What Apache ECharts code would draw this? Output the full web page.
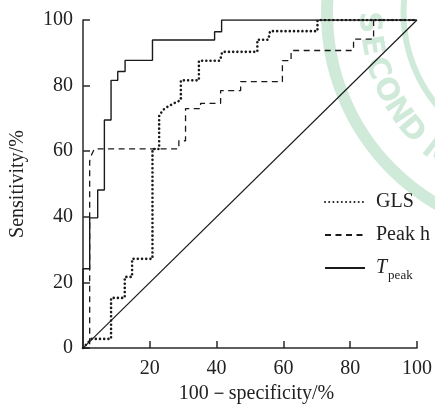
<!DOCTYPE html>
<html>
<head>
<meta charset="utf-8">
<script src="https://cdn.jsdelivr.net/npm/echarts@6/dist/echarts.min.js"></script>
<style>html,body{margin:0;padding:0;background:#fff;}#c{width:435px;height:409px;}</style>
</head>
<body>
<div id="c"></div>
<script>
// ---- data ----
const axisTicks = [0, 20, 40, 60, 80, 100];
const seriesNames = ['GLS', 'Peak h', 'T_peak'];

const glsX = [0, 2.5, 8.4, 8.4, 12.5, 12.5, 14.7, 14.7, 20.8, 20.8, 22.8, 22.8, 24.4, 27, 29.3, 29.3, 34.7, 34.7, 41, 41.7, 52.2, 52.2, 55.5, 56, 70.2, 70.2, 100];
const glsY = [0, 2.8, 2.8, 15.3, 15.3, 21.7, 21.7, 27.2, 27.2, 60.7, 60.7, 71, 73, 74.5, 75.6, 81.6, 81.6, 87.6, 87.6, 90.3, 90.3, 94, 94, 96.6, 96.6, 100, 100];

const peakX = [0, 2, 2, 2.6, 3.4, 28.7, 28.7, 30.7, 30.7, 35.2, 35.2, 41.2, 41.2, 47.2, 47.2, 59.7, 59.7, 62.3, 62.3, 81, 81, 87, 87, 100];
const peakY = [0, 0, 57, 59, 60.7, 60.7, 63.2, 63.2, 73, 73, 74.6, 74.6, 78.5, 78.5, 81.2, 81.2, 87.6, 87.6, 90.7, 90.7, 94.2, 94.2, 100, 100];

const tpeakX = [0, 0, 2, 2, 4.4, 4.4, 6.4, 6.4, 8.4, 8.4, 10.4, 10.4, 12.6, 12.6, 20.8, 20.8, 39.4, 39.4, 41.5, 41.5, 100];
const tpeakY = [0, 24.2, 24.2, 39.7, 39.7, 48.2, 48.2, 69.5, 69.5, 81.6, 81.6, 84.3, 84.3, 87.7, 87.7, 93.9, 93.9, 96.4, 96.4, 100, 100];

const refX = [0, 100];
const refY = [0, 100];

// ---- helpers ----
const zip = (xs, ys) => xs.map((x, i) => [x, ys[i]]);

const FONT = '"Liberation Serif", "Times New Roman", serif';
const INK = '#1a1a1a';

// watermark (light green seal fragment)
const wmCx = 548, wmCy = 13, wmR = 180;
const wmLetters = ['S', 'E', 'C', 'O', 'N', 'D', 'M'];
const wmAngles = [177, 169.5, 162, 154.5, 147, 139.5, 128];
const WM = '#d0eada';
const wmGraphics = [
  { type: 'arc', z: 0, silent: true, shape: { cx: wmCx, cy: wmCy, r: 221, startAngle: 0, endAngle: Math.PI * 2 }, style: { stroke: WM, lineWidth: 12, fill: null } },
  { type: 'arc', z: 0, silent: true, shape: { cx: wmCx, cy: wmCy, r: 144.5, startAngle: 0, endAngle: Math.PI * 2 }, style: { stroke: WM, lineWidth: 6, fill: null } }
].concat(wmLetters.map((ch, i) => {
  const th = wmAngles[i] * Math.PI / 180;
  return {
    type: 'text', z: 0, silent: true,
    x: wmCx + wmR * Math.cos(th), y: wmCy + wmR * Math.sin(th),
    rotation: (90 - wmAngles[i]) * Math.PI / 180,
    style: { text: ch, fill: WM, font: 'bold 30px "DejaVu Sans", sans-serif', align: 'center', verticalAlign: 'middle' }
  };
}));

const chart = echarts.init(document.getElementById('c'), null, { renderer: 'canvas' });

const axisCommon = {
  type: 'value', min: axisTicks[0], max: axisTicks[axisTicks.length - 1], interval: 20,
  axisLine: { show: true, lineStyle: { color: '#2a2a2a', width: 1.5 } },
  axisTick: { show: true, inside: true, length: 7, lineStyle: { color: '#2a2a2a', width: 1.5 } },
  splitLine: { show: false },
  axisLabel: { color: '#222', fontFamily: FONT, fontSize: 20 },
  nameTextStyle: { color: '#222', fontFamily: FONT, fontSize: 20 }
};

chart.setOption({
  animation: false,
  backgroundColor: '#fff',
  graphic: wmGraphics,
  grid: { left: 82, right: 18, top: 20, bottom: 55, containLabel: false },
  xAxis: Object.assign({}, axisCommon, {
    name: '100－specificity/%', nameLocation: 'middle', nameGap: 32,
    nameTextStyle: Object.assign({}, axisCommon.nameTextStyle, { padding: [0, 0, 0, 13] }),
    axisLabel: Object.assign({}, axisCommon.axisLabel, { margin: 11, showMinLabel: false, formatter: v => v === 0 ? '' : String(v) })
  }),
  yAxis: Object.assign({}, axisCommon, {
    name: 'Sensitivity/%', nameLocation: 'middle', nameGap: 55, nameRotate: 90,
    axisLabel: Object.assign({}, axisCommon.axisLabel, { margin: 10 })
  }),
  legend: {
    orient: 'vertical', left: 324, top: 192, padding: 0,
    itemWidth: 40, itemHeight: 14, itemGap: 13,
    data: seriesNames,
    itemStyle: { opacity: 0 },
    textStyle: {
      color: '#222', fontFamily: FONT, fontSize: 20, padding: [0, 0, 0, 6],
      rich: {
        t: { fontFamily: FONT, fontSize: 20, fontStyle: 'italic', color: '#222', verticalAlign: 'top', lineHeight: 20 },
        s: { fontFamily: FONT, fontSize: 13, color: '#222', verticalAlign: 'top', lineHeight: 13, padding: [11, 0, 0, 1] }
      }
    },
    formatter: n => n === 'T_peak' ? '{t|T}{s|peak}' : n
  },
  series: [
    { name: 'ref', type: 'line', data: zip(refX, refY), symbol: 'none', silent: true, z: 3,
      lineStyle: { color: INK, width: 1.2 } },
    { name: 'Peak h', type: 'line', data: zip(peakX, peakY), symbol: 'none', z: 4,
      itemStyle: { color: INK },
      lineStyle: { color: INK, width: 1.3, type: [6, 4.5] } },
    { name: 'GLS', type: 'line', data: zip(glsX, glsY), symbol: 'none', z: 5,
      itemStyle: { color: INK },
      lineStyle: { color: INK, width: 2.6, type: [0.01, 4.2], cap: 'round' } },
    { name: 'T_peak', type: 'line', data: zip(tpeakX, tpeakY), symbol: 'none', z: 6,
      itemStyle: { color: INK },
      lineStyle: { color: INK, width: 1.4 } }
  ]
});
</script>
</body>
</html>
